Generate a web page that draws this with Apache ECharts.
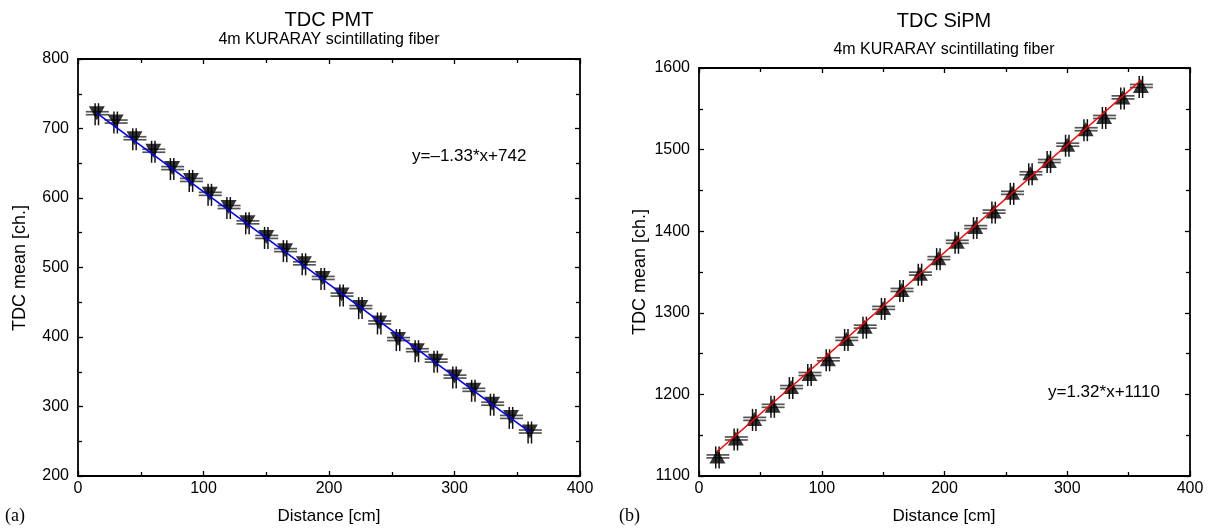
<!doctype html>
<html>
<head>
    <meta charset="utf-8">
    <title>TDC PMT / SiPM</title>
    <script src="https://cdn.jsdelivr.net/npm/echarts@6/dist/echarts.min.js"></script>
    <style>
        html,body{margin:0;padding:0;background:#fff;}
        #chart{width:1215px;height:528px;}
    </style>
</head>
<body>
    <div id="chart"></div>
    <script>
        // distances along the fiber [cm]
        var distances=[15,30,45,60,75,90,105,120,135,150,165,180,195,210,225,240,255,270,285,300,315,330,345,360];
        // TDC mean, PMT readout [ch.]
        var pmtMeans=[722,710,686,668,643,626,606,587,565,544,525,506,485,461,443,421,397,381,366,343,324,304,285,264];
        // TDC mean, SiPM readout [ch.]
        var sipmMeans=[1124,1146,1170,1186,1209,1225,1243,1268,1283,1306,1328,1348,1367,1387,1405,1424,1447,1471,1486,1506,1525,1540,1564,1578];
        // fitted lines (end points)
        var fitX=[15,360];
        var pmtFit=[722,263];
        var sipmFit=[1130,1585];
        // axis ranges
        var xRange=[0,400];
        var pmtRange=[200,800];
        var sipmRange=[1100,1600];

        var FONT='"Liberation Sans", Arial, sans-serif';
        var SERIF='"Liberation Serif", "Times New Roman", serif';

        function pairs(xs,ys){
            var out=[];
            for(var i=0;i<xs.length;i++){out.push([xs[i],ys[i]]);}
            return out;
        }

        //误差棒: 两条横线 + 两条竖线
        function errRender(params,api){
            var p=api.coord([api.value(0),api.value(1)]);
            var h='#555',v='#111';
            return {
                type:'group',
                children:[
                    {type:'line',shape:{x1:p[0]-11,y1:p[1]-1.5,x2:p[0]+12,y2:p[1]-1.5},style:{stroke:h,lineWidth:1.7}},
                    {type:'line',shape:{x1:p[0]-11,y1:p[1]+1.5,x2:p[0]+12,y2:p[1]+1.5},style:{stroke:h,lineWidth:1.7}},
                    {type:'line',shape:{x1:p[0]-1.7,y1:p[1]-10,x2:p[0]-1.7,y2:p[1]+12},style:{stroke:v,lineWidth:1.5}},
                    {type:'line',shape:{x1:p[0]+1.7,y1:p[1]-10,x2:p[0]+1.7,y2:p[1]+12},style:{stroke:v,lineWidth:1.5}}
                ]
            };
        }

        function axisDef(grid,pos,range,labels,margin){
            return {
                type:'value',gridIndex:grid,position:pos,min:range[0],max:range[1],interval:100,
                axisLine:{show:true,onZero:false,lineStyle:{color:'#000',width:1.8}},
                axisTick:{show:true,inside:true,length:5,lineStyle:{color:'#000',width:1.3}},
                minorTick:{show:true,splitNumber:2,length:4,lineStyle:{color:'#000',width:1.3}},
                splitLine:{show:false},
                axisLabel:{show:labels,color:'#000',fontSize:16,fontFamily:FONT,margin:margin,
                    formatter:function(v){return String(v);}}
            };
        }

        var chart=echarts.init(document.getElementById('chart'));
        var option={
            backgroundColor:'#fff',
            animation:false,
            grid:[
                {left:78,top:59,width:502,height:417},
                {left:699,top:68,width:491,height:408}
            ],
            xAxis:[
                axisDef(0,'bottom',xRange,true,5),axisDef(0,'top',xRange,false,5),
                axisDef(1,'bottom',xRange,true,5),axisDef(1,'top',xRange,false,5)
            ],
            yAxis:[
                axisDef(0,'left',pmtRange,true,9),axisDef(0,'right',pmtRange,false,9),
                axisDef(1,'left',sipmRange,true,9),axisDef(1,'right',sipmRange,false,9)
            ],
            series:[
                {type:'custom',xAxisIndex:0,yAxisIndex:0,renderItem:errRender,data:pairs(distances,pmtMeans),z:2},
                {type:'scatter',xAxisIndex:0,yAxisIndex:0,data:pairs(distances,pmtMeans),
                    symbol:'triangle',symbolRotate:180,symbolSize:[16,14],itemStyle:{color:'#000'},z:3},
                {type:'line',xAxisIndex:0,yAxisIndex:0,data:pairs(fitX,pmtFit),showSymbol:false,symbol:'none',
                    lineStyle:{color:'#0000ff',width:1.6},z:4},

                {type:'custom',xAxisIndex:2,yAxisIndex:2,renderItem:errRender,data:pairs(distances,sipmMeans),z:2},
                {type:'scatter',xAxisIndex:2,yAxisIndex:2,data:pairs(distances,sipmMeans),
                    symbol:'triangle',symbolSize:[16,14],itemStyle:{color:'#000'},z:3},
                {type:'line',xAxisIndex:2,yAxisIndex:2,data:pairs(fitX,sipmFit),showSymbol:false,symbol:'none',
                    lineStyle:{color:'#ff0000',width:1.6},z:4}
            ],
            graphic:[
                {type:'text',x:329,y:20,style:{text:'TDC PMT',font:'20px '+FONT,fill:'#000',align:'center',verticalAlign:'middle'}},
                {type:'text',x:329,y:40,style:{text:'4m KURARAY scintillating fiber',font:'16px '+FONT,fill:'#000',align:'center',verticalAlign:'middle'}},
                {type:'text',x:944,y:21,style:{text:'TDC SiPM',font:'20px '+FONT,fill:'#000',align:'center',verticalAlign:'middle'}},
                {type:'text',x:944,y:50,style:{text:'4m KURARAY scintillating fiber',font:'16px '+FONT,fill:'#000',align:'center',verticalAlign:'middle'}},

                {type:'text',x:412,y:156,style:{text:'y=\u20131.33*x+742',font:'17px '+FONT,fill:'#000',align:'left',verticalAlign:'middle'}},
                {type:'text',x:1048,y:392,style:{text:'y=1.32*x+1110',font:'17px '+FONT,fill:'#000',align:'left',verticalAlign:'middle'}},

                {type:'text',x:20,y:268,rotation:Math.PI/2,style:{text:'TDC mean [ch.]',font:'18px '+FONT,fill:'#000',align:'center',verticalAlign:'middle'}},
                {type:'text',x:640,y:272,rotation:Math.PI/2,style:{text:'TDC mean [ch.]',font:'18px '+FONT,fill:'#000',align:'center',verticalAlign:'middle'}},
                {type:'text',x:329,y:516,style:{text:'Distance [cm]',font:'17px '+FONT,fill:'#000',align:'center',verticalAlign:'middle'}},
                {type:'text',x:944,y:516,style:{text:'Distance [cm]',font:'17px '+FONT,fill:'#000',align:'center',verticalAlign:'middle'}},

                {type:'text',x:5,y:516,style:{text:'(a)',font:'18px '+SERIF,fill:'#000',align:'left',verticalAlign:'middle'}},
                {type:'text',x:619,y:516,style:{text:'(b)',font:'18px '+SERIF,fill:'#000',align:'left',verticalAlign:'middle'}}
            ]
        };
        chart.setOption(option);
    </script>
</body>
</html>
